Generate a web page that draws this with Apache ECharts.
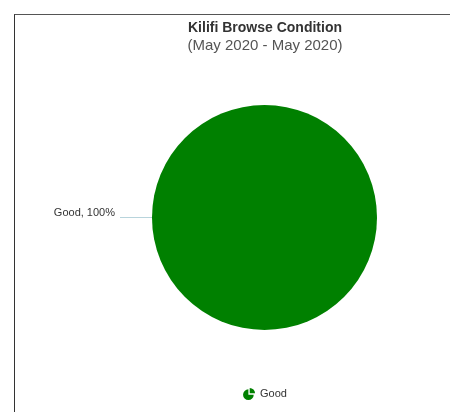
<!DOCTYPE html>
<html>
<head>
<meta charset="utf-8">
<script src="https://cdn.jsdelivr.net/npm/echarts@6/dist/echarts.min.js"></script>
<style>
html,body{margin:0;padding:0;width:450px;height:412px;overflow:hidden;background:#fff;}
#frame{position:absolute;left:14px;top:14px;width:700px;height:700px;border-top:1px solid #555;border-left:1px solid #333;}
#chart{position:absolute;left:0;top:0;width:530px;height:412px;}
</style>
</head>
<body>
<div id="frame"></div>
<div id="chart"></div>
<script>
var titleText = 'Kilifi Browse Condition';
var subtitleText = '(May 2020 - May 2020)';
var categories = ['Good'];
var values = [100];

var chart = echarts.init(document.getElementById('chart'), null, {renderer: 'canvas'});
var data = categories.map(function (c, i) { return {name: c, value: values[i]}; });
chart.setOption({
  backgroundColor: 'transparent',
  animation: false,
  title: {
    text: titleText,
    subtext: subtitleText,
    left: 'center',
    top: 16,
    itemGap: 3,
    textStyle: {fontFamily: 'Liberation Sans', fontSize: 14, fontWeight: 'bold', color: '#333'},
    subtextStyle: {fontFamily: 'Liberation Sans', fontSize: 15, color: '#555'}
  },
  legend: {
    left: 'center',
    top: 383,
    itemWidth: 12,
    itemHeight: 12,
    itemGap: 6,
    icon: 'path://M9,2 A8,8 0 1,0 17,10 L9,10 Z M11,0 A8,8 0 0,1 19,8 L11,8 Z',
    textStyle: {fontFamily: 'Liberation Sans', fontSize: 11, color: '#333'},
    data: categories
  },
  series: [{
    type: 'pie',
    center: [264.5, 217.5],
    radius: [0, 112.5],
    startAngle: 0,
    color: ['#008000'],
    itemStyle: {borderWidth: 0},
    label: {
      show: true,
      formatter: function (p) { return p.name + ', ' + p.percent + '%'; },
      fontFamily: 'Liberation Sans',
      fontSize: 11,
      color: '#333',
      distanceToLabelLine: 5
    },
    labelLine: {
      show: true,
      length: 6,
      length2: 26,
      lineStyle: {color: '#b8d4dc', width: 1}
    },
    labelLayout: {dy: -5},
    emphasis: {disabled: true},
    data: data
  }]
});
</script>
</body>
</html>
